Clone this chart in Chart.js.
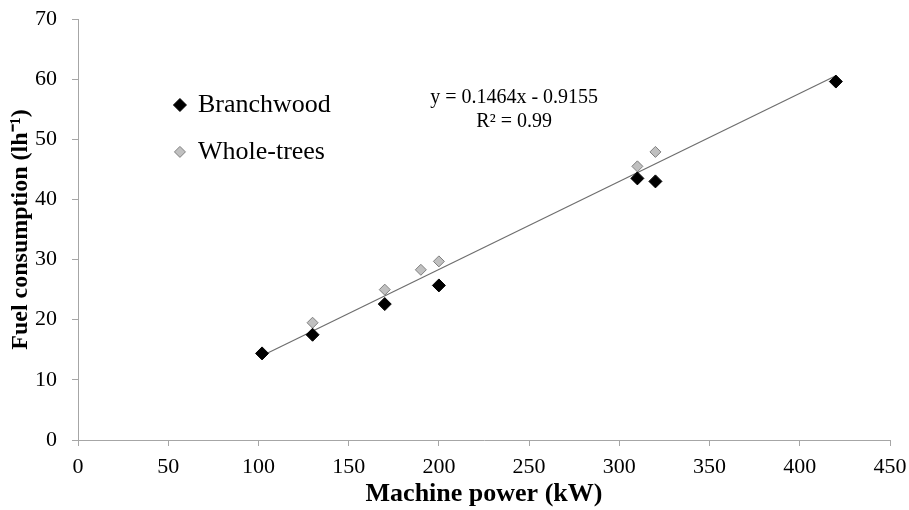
<!DOCTYPE html>
<html>
<head>
<meta charset="utf-8">
<script src="https://cdn.jsdelivr.net/npm/chart.js@4.4.1/dist/chart.umd.min.js"></script>
<style>
  html, body { margin: 0; padding: 0; background: #fff; }
  #wrap { width: 909px; height: 510px; }
</style>
</head>
<body>
<div id="wrap"><canvas id="myChart"></canvas></div>
<script>
// 데이터
const branchPower = [102, 130, 170, 200, 310, 320, 420];
const branchFuel = [14.4, 17.5, 22.6, 25.7, 43.5, 43.0, 59.6];
const wholePower = [130, 170, 190, 200, 310, 320];
const wholeFuel = [19.5, 25.0, 28.3, 29.7, 45.5, 47.9];
const trendSlope = 0.1464;
const trendIntercept = -0.9155;
const trendRange = [102, 420];
const xTicks = [0, 50, 100, 150, 200, 250, 300, 350, 400, 450];
const yTicks = [0, 10, 20, 30, 40, 50, 60, 70];

const toPoints = (xs, ys) => xs.map((x, i) => ({ x: x, y: ys[i] }));
const trendPoints = trendRange.map((x) => ({ x: x, y: trendSlope * x + trendIntercept }));

const serif = "'Liberation Serif', 'Times New Roman', serif";

// 범례와 회귀식 텍스트
const annotations = {
  id: "annotations",
  afterDraw(chart) {
    const { ctx, scales } = chart;
    const x = scales.x, y = scales.y;
    ctx.save();
    // legend
    const items = [
      { label: "Branchwood", fill: "#000", stroke: "#000", r: 6.5, ly: 55.7 },
      { label: "Whole-trees", fill: "#c0c0c0", stroke: "#7f7f7f", r: 5.5, ly: 47.9 },
    ];
    items.forEach((it) => {
      const px = x.getPixelForValue(56.5);
      const py = y.getPixelForValue(it.ly);
      ctx.beginPath();
      ctx.moveTo(px, py - it.r);
      ctx.lineTo(px + it.r, py);
      ctx.lineTo(px, py + it.r);
      ctx.lineTo(px - it.r, py);
      ctx.closePath();
      ctx.fillStyle = it.fill;
      ctx.fill();
      ctx.strokeStyle = it.stroke;
      ctx.lineWidth = 1;
      ctx.stroke();
      ctx.fillStyle = "#000";
      ctx.font = "26px " + serif;
      ctx.textBaseline = "middle";
      ctx.textAlign = "left";
      ctx.fillText(it.label, px + 18, py);
    });
    // equation
    ctx.font = "20px " + serif;
    ctx.textAlign = "center";
    ctx.textBaseline = "middle";
    ctx.fillText("y = " + trendSlope + "x - " + Math.abs(trendIntercept), x.getPixelForValue(241.7), y.getPixelForValue(56.9));
    ctx.fillText("R² = 0.99", x.getPixelForValue(241.7), y.getPixelForValue(52.9));
    ctx.restore();
  },
};

const ctx = document.getElementById("myChart").getContext("2d");
const myChart = new Chart(ctx, {
  type: "scatter",
  data: {
    datasets: [
      {
        label: "Trend",
        type: "line",
        data: trendPoints,
        borderColor: "#6e6e6e",
        borderWidth: 1.2,
        pointRadius: 0,
        fill: false,
        order: 3,
      },
      {
        label: "Whole-trees",
        data: toPoints(wholePower, wholeFuel),
        pointStyle: "rectRot",
        pointRadius: 5.5,
        backgroundColor: "#c0c0c0",
        borderColor: "#7f7f7f",
        borderWidth: 1,
        order: 2,
      },
      {
        label: "Branchwood",
        data: toPoints(branchPower, branchFuel),
        pointStyle: "rectRot",
        pointRadius: 6.5,
        backgroundColor: "#000",
        borderColor: "#000",
        borderWidth: 1,
        order: 1,
      },
    ],
  },
  options: {
    responsive: true,
    maintainAspectRatio: false,
    animation: false,
    layout: { padding: { left: 6, right: 0, top: 19, bottom: 0 } },
    plugins: {
      legend: { display: false },
      tooltip: { enabled: false },
    },
    scales: {
      x: {
        type: "linear",
        min: 0,
        max: 450,
        afterBuildTicks: (axis) => { axis.ticks = xTicks.map((v) => ({ value: v })); },
        afterFit: (axis) => {
          axis.height = 70;
          axis.paddingLeft = 0;
          axis.paddingRight = 19;
        },
        grid: { drawOnChartArea: false, color: "#a6a6a6", tickLength: 6 },
        border: { color: "#a6a6a6" },
        ticks: { color: "#000", font: { family: serif, size: 22 }, padding: 8, maxRotation: 0 },
        title: {
          display: true,
          text: "Machine power (kW)",
          color: "#000",
          font: { family: serif, size: 26, weight: "bold" },
          padding: { top: 0, bottom: 0 },
        },
      },
      y: {
        type: "linear",
        min: 0,
        max: 70,
        afterBuildTicks: (axis) => { axis.ticks = yTicks.map((v) => ({ value: v })); },
        afterFit: (axis) => {
          axis.width = 72;
          axis.paddingTop = 0;
          axis.paddingBottom = 0;
        },
        grid: { drawOnChartArea: false, color: "#a6a6a6", tickLength: 6 },
        border: { color: "#a6a6a6" },
        ticks: { color: "#000", font: { family: serif, size: 22 }, padding: 15 },
        title: {
          display: true,
          text: "Fuel consumption (lh⁻¹)",
          color: "#000",
          font: { family: serif, size: 24, weight: "bold" },
          padding: { top: 0, bottom: 0 },
        },
      },
    },
  },
  plugins: [annotations],
});
</script>
</body>
</html>
